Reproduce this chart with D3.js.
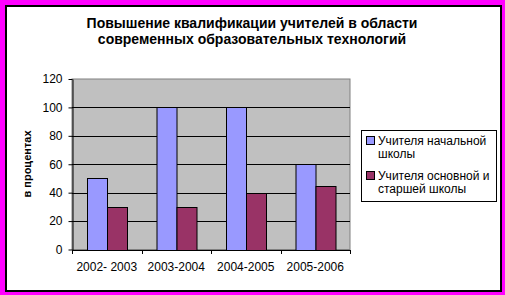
<!DOCTYPE html>
<html lang="ru">
<head>
<meta charset="UTF-8">
<title>Повышение квалификации учителей</title>
<script src="https://d3js.org/d3.v7.min.js"></script>
<style>
  html, body { margin: 0; padding: 0; background: #ff00ff; }
  svg { display: block; font-family: Arial, "Liberation Sans", sans-serif; }
</style>
</head>
<body>
<svg width="505" height="295"></svg>
<script>
const years = ["2002- 2003", "2003-2004", "2004-2005", "2005-2006"];
const seriesNames = ["Учителя начальной школы", "Учителя основной и старшей школы"];
const primary = [50, 100, 100, 60];
const secondary = [30, 30, 40, 45];
const yTicks = [0, 20, 40, 60, 80, 100, 120];
const colors = ["#9999ff", "#993366"];
const legendLines = [["Учителя начальной", "школы"], ["Учителя основной и", "старшей школы"]];

const svg = d3.select("svg");

// рамка
svg.append("rect").attr("width", 505).attr("height", 295).attr("fill", "#ff00ff");
svg.append("rect").attr("x", 5).attr("y", 5).attr("width", 497).attr("height", 287).attr("fill", "#000");
svg.append("rect").attr("x", 7).attr("y", 7).attr("width", 493).attr("height", 283).attr("fill", "#fff");

// заголовок
const title = svg.append("text").attr("text-anchor", "middle")
  .attr("font-size", 14).attr("font-weight", "bold").attr("fill", "#000");
title.append("tspan").attr("x", 252).attr("y", 28).text("Повышение квалификации учителей в области");
title.append("tspan").attr("x", 252).attr("y", 44).text("современных образовательных технологий");

const plotL = 72, plotR = 350, plotT = 79, plotB = 249.5;

const x0 = d3.scaleBand().domain(years).range([plotL, plotR]);
const bw = x0.bandwidth();
const bar = bw / 3.5;
const x1 = d3.scaleBand().domain([0, 1]).range([bar * 0.75, bw - bar * 0.75]);
const y = d3.scaleLinear().domain([0, 120]).range([plotB, plotT]);

// область построения
svg.append("rect").attr("x", plotL).attr("y", plotT)
  .attr("width", plotR - plotL).attr("height", plotB - plotT)
  .attr("fill", "#c0c0c0").attr("stroke", "#808080").attr("stroke-width", 1);

svg.append("g").selectAll("line")
  .data(yTicks.filter(d => d > 0 && d < 120))
  .join("line")
  .attr("x1", plotL).attr("x2", plotR)
  .attr("y1", d => Math.round(y(d)) + 0.5).attr("y2", d => Math.round(y(d)) + 0.5)
  .attr("stroke", "#000");

// столбцы
const data = years.map((yr, i) => ({ yr, vals: [primary[i], secondary[i]] }));
svg.append("g").selectAll("g")
  .data(data)
  .join("g")
  .attr("transform", d => `translate(${x0(d.yr)},0)`)
  .selectAll("rect")
  .data(d => d.vals.map((v, k) => ({ v, k })))
  .join("rect")
  .attr("x", d => Math.round(x1(d.k)) + 0.5)
  .attr("y", d => Math.round(y(d.v)) + 0.5)
  .attr("width", Math.round(x1.bandwidth()))
  .attr("height", d => Math.round(plotB) - Math.round(y(d.v)))
  .attr("fill", d => colors[d.k])
  .attr("stroke", "#000").attr("stroke-width", 1);

// ось Y
const yAxis = svg.append("g")
  .attr("transform", `translate(${plotL + 0.5},0)`)
  .call(d3.axisLeft(y).tickValues(yTicks).tickSize(4).tickSizeOuter(0).tickPadding(6));
yAxis.select(".domain").attr("stroke", "#000");
yAxis.selectAll("text").attr("font-size", 12).attr("font-family", "Arial, 'Liberation Sans', sans-serif").attr("fill", "#000");

// ось X
svg.append("line").attr("x1", plotL).attr("x2", plotR + 0.5)
  .attr("y1", Math.round(plotB) + 0.5).attr("y2", Math.round(plotB) + 0.5).attr("stroke", "#000");
svg.append("g").selectAll("line")
  .data(d3.range(years.length + 1))
  .join("line")
  .attr("x1", i => Math.round(plotL + i * bw) + 0.5).attr("x2", i => Math.round(plotL + i * bw) + 0.5)
  .attr("y1", Math.round(plotB)).attr("y2", Math.round(plotB) + 4)
  .attr("stroke", "#000");
svg.append("g").selectAll("text")
  .data(years)
  .join("text")
  .attr("x", d => x0(d) + bw / 2)
  .attr("y", 271)
  .attr("text-anchor", "middle")
  .attr("font-size", 12)
  .text(d => d);

// подпись оси Y
svg.append("text")
  .attr("transform", "translate(31,164) rotate(-90)")
  .attr("text-anchor", "middle")
  .attr("font-size", 11).attr("font-weight", "bold")
  .text("в процентах");

// легенда
const lg = svg.append("g");
lg.append("rect").attr("x", 361.5).attr("y", 130.5).attr("width", 135).attr("height", 71)
  .attr("fill", "#fff").attr("stroke", "#000");
const baselines = [[145, 157.5], [180, 193]];
legendLines.forEach((lines, i) => {
  lg.append("rect").attr("x", 366.5).attr("y", baselines[i][0] - 8.5)
    .attr("width", 8).attr("height", 8)
    .attr("fill", colors[i]).attr("stroke", "#000");
  lines.forEach((t, j) => {
    lg.append("text").attr("x", 378).attr("y", baselines[i][j])
      .attr("font-size", 12).text(t);
  });
});
</script>
</body>
</html>
